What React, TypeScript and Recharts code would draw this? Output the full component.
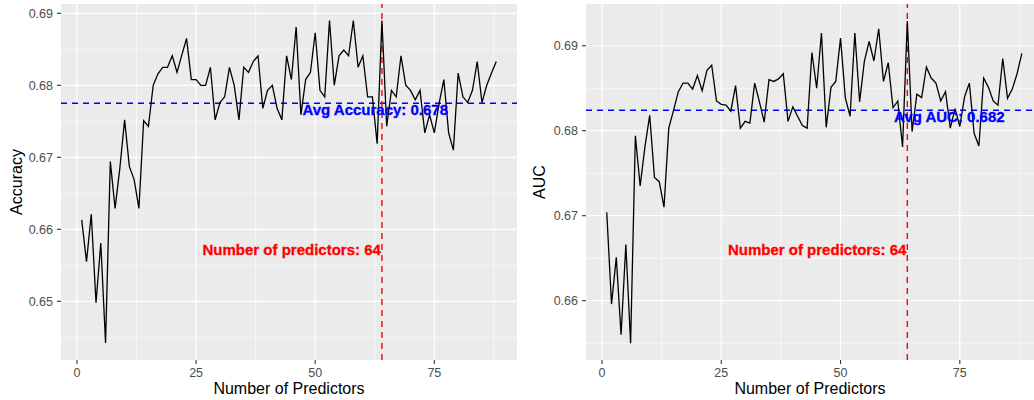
import React from 'react';
import {
  LineChart,
  Line,
  XAxis,
  YAxis,
  CartesianGrid,
  ReferenceLine,
  ReferenceDot,
} from 'recharts';

const predictors = [
  1, 2, 3, 4, 5, 6, 7, 8, 9, 10, 11, 12, 13, 14, 15, 16, 17, 18, 19, 20, 21, 22,
  23, 24, 25, 26, 27, 28, 29, 30, 31, 32, 33, 34, 35, 36, 37, 38, 39, 40, 41, 42,
  43, 44, 45, 46, 47, 48, 49, 50, 51, 52, 53, 54, 55, 56, 57, 58, 59, 60, 61, 62,
  63, 64, 65, 66, 67, 68, 69, 70, 71, 72, 73, 74, 75, 76, 77, 78, 79, 80, 81, 82,
  83, 84, 85, 86, 87, 88,
];

const accuracy = [
  0.6613, 0.6555, 0.6621, 0.6498, 0.6581, 0.6442, 0.6694, 0.6629, 0.6685, 0.6752,
  0.6687, 0.6669, 0.6629, 0.6751, 0.6743, 0.68, 0.6816, 0.6825, 0.6825, 0.6841,
  0.6818, 0.6842, 0.6865, 0.6808, 0.6808, 0.68, 0.68, 0.6825, 0.6752, 0.6776,
  0.6784, 0.6825, 0.68, 0.6752, 0.6825, 0.6818, 0.6833, 0.6841, 0.6768, 0.6793,
  0.68, 0.6768, 0.6752, 0.6841, 0.6808, 0.6881, 0.6759, 0.6808, 0.6818, 0.6873,
  0.6793, 0.6784, 0.689, 0.68, 0.6841, 0.6849, 0.6841, 0.689, 0.6825, 0.6841,
  0.6784, 0.6784, 0.6719, 0.689, 0.6743, 0.6793, 0.6784, 0.6841, 0.68, 0.6793,
  0.678, 0.6793, 0.6734, 0.6759, 0.6734, 0.6775, 0.6808, 0.6734, 0.671, 0.6817,
  0.6784, 0.6776, 0.6793, 0.6833, 0.6776, 0.68, 0.6817, 0.6833,
];

const auc = [
  0.6704, 0.6596, 0.6651, 0.656, 0.6666, 0.655, 0.6794, 0.6735, 0.6781, 0.6818,
  0.6745, 0.674, 0.671, 0.6803, 0.6824, 0.6846, 0.6856, 0.6856, 0.6849, 0.6865,
  0.6847, 0.6871, 0.6877, 0.6835, 0.6831, 0.683, 0.6823, 0.6853, 0.6803, 0.6811,
  0.6809, 0.6856, 0.6834, 0.681, 0.686, 0.6858, 0.6861, 0.6867, 0.6811, 0.6828,
  0.6817, 0.6806, 0.6803, 0.6892, 0.685, 0.6915, 0.6804, 0.6851, 0.6858, 0.6909,
  0.6839, 0.6817, 0.6915, 0.6834, 0.6882, 0.6905, 0.6882, 0.692, 0.6858, 0.688,
  0.6827, 0.6835, 0.6781, 0.6929, 0.6799, 0.6843, 0.6839, 0.6875, 0.6862, 0.6856,
  0.6835, 0.6846, 0.6803, 0.6826, 0.6805, 0.684, 0.6856, 0.6797, 0.6782, 0.6862,
  0.6851, 0.6835, 0.683, 0.6885, 0.6838, 0.6849, 0.6867, 0.6891,
];

const xTicks = [0, 25, 50, 75];
const xMinor = [12.5, 37.5, 62.5, 87.5];
const accYTicks = [0.65, 0.66, 0.67, 0.68, 0.69];
const accYMinor = [0.645, 0.655, 0.665, 0.675, 0.685];
const aucYTicks = [0.66, 0.67, 0.68, 0.69];
const aucYMinor = [0.655, 0.665, 0.675, 0.685];

const accAvg = 0.6775;
const aucAvg = 0.6824;
const bestPredictors = 64;

const accData = predictors.map((p, i) => ({ n: p, value: accuracy[i] }));
const aucData = predictors.map((p, i) => ({ n: p, value: auc[i] }));

const FONT = '"Liberation Sans", Arial, Helvetica, sans-serif';

type PanelProps = {
  width: number;
  yAxisWidth: number;
  marginRight: number;
  data: { n: number; value: number }[];
  yDomain: [number, number];
  yTicks: number[];
  yMinor: number[];
  xDomain: [number, number];
  avg: number;
  avgLabel: string;
  avgLabelX: number;
  predLabelY: number;
  yTitle: string;
  yTitleX: number;
};

function Panel(p: PanelProps) {
  const tickStyle = { fill: '#4D4D4D', fontSize: 12.5, fontFamily: FONT };
  return (
    <LineChart
      width={p.width}
      height={400}
      data={p.data}
      margin={{ top: 4, right: p.marginRight, left: 0, bottom: 0 }}
    >
      <CartesianGrid
        fill="#EBEBEB"
        stroke="#FFFFFF"
        strokeWidth={0.6}
        verticalValues={xMinor}
        horizontalValues={p.yMinor}
      />
      <CartesianGrid
        fill="none"
        stroke="#FFFFFF"
        strokeWidth={1.2}
        verticalValues={xTicks}
        horizontalValues={p.yTicks}
      />
      <XAxis
        dataKey="n"
        type="number"
        domain={p.xDomain}
        allowDataOverflow
        ticks={xTicks}
        axisLine={false}
        tickLine={{ stroke: '#333333', strokeWidth: 1.1 }}
        tickSize={4}
        tickMargin={4}
        tick={tickStyle}
        height={40}
        label={{
          content: (props: any) => {
            const vb = props.viewBox || {};
            return (
              <text
                x={vb.x + vb.width / 2}
                y={vb.y + 34}
                textAnchor="middle"
                fill="#000000"
                fontSize={16}
                fontFamily={FONT}
              >
                Number of Predictors
              </text>
            );
          },
        }}
      />
      <YAxis
        type="number"
        domain={p.yDomain}
        allowDataOverflow
        ticks={p.yTicks}
        tickFormatter={(v: number) => v.toFixed(2)}
        axisLine={false}
        tickLine={{ stroke: '#333333', strokeWidth: 1.1 }}
        tickSize={4}
        tickMargin={4}
        tick={tickStyle}
        width={p.yAxisWidth}
        label={{
          content: (props: any) => {
            const vb = props.viewBox || {};
            const x = vb.x + p.yTitleX;
            const y = vb.y + vb.height / 2;
            return (
              <text
                x={x}
                y={y}
                transform={`rotate(-90 ${x} ${y})`}
                textAnchor="middle"
                fill="#000000"
                fontSize={16}
                fontFamily={FONT}
              >
                {p.yTitle}
              </text>
            );
          },
        }}
      />
      <ReferenceLine
        y={p.avg}
        stroke="#0000FF"
        strokeWidth={1.4}
        strokeDasharray="6 5"
      />
      <ReferenceLine
        x={bestPredictors}
        stroke="#FF0000"
        strokeWidth={1.4}
        strokeDasharray="6 5"
      />
      <Line
        type="linear"
        dataKey="value"
        stroke="#000000"
        strokeWidth={1.3}
        dot={false}
        activeDot={false}
        isAnimationActive={false}
      />
      <ReferenceDot
        x={p.avgLabelX}
        y={p.avg}
        r={0}
        shape={(sp: any) => (
          <text
            x={sp.cx}
            y={sp.cy + 12}
            textAnchor="middle"
            fill="#0000FF"
            stroke="#0000FF"
            strokeWidth={0.3}
            fontSize={15}
            fontWeight="bold"
            fontFamily={FONT}
          >
            {p.avgLabel}
          </text>
        )}
      />
      <ReferenceDot
        x={bestPredictors}
        y={p.predLabelY}
        r={0}
        shape={(sp: any) => (
          <text
            x={sp.cx - 1}
            y={sp.cy}
            textAnchor="end"
            fill="#FF0000"
            stroke="#FF0000"
            strokeWidth={0.3}
            fontSize={15}
            fontWeight="bold"
            fontFamily={FONT}
          >
            {`Number of predictors: ${bestPredictors}`}
          </text>
        )}
      />
    </LineChart>
  );
}

export default function App() {
  return (
    <div
      style={{
        position: 'absolute',
        left: 0,
        top: 0,
        width: 1034,
        height: 400,
        overflow: 'hidden',
        background: '#FFFFFF',
        display: 'flex',
      }}
    >
      <Panel
        width={520}
        yAxisWidth={61}
        marginRight={3}
        data={accData}
        yDomain={[0.64185, 0.69129]}
        yTicks={accYTicks}
        yMinor={accYMinor}
        xDomain={[-3.35, 92.35]}
        avg={accAvg}
        avgLabel="Avg Accuracy: 0.678"
        avgLabelX={62.6}
        predLabelY={0.65643}
        yTitle="Accuracy"
        yTitleX={21.7}
      />
      <Panel
        width={514}
        yAxisWidth={66}
        marginRight={0}
        data={aucData}
        yDomain={[0.65302, 0.69491]}
        yTicks={aucYTicks}
        yMinor={aucYMinor}
        xDomain={[-3.35, 90.55]}
        avg={aucAvg}
        avgLabel="Avg AUC: 0.682"
        avgLabelX={72.8}
        predLabelY={0.66538}
        yTitle="AUC"
        yTitleX={25}
      />
    </div>
  );
}
